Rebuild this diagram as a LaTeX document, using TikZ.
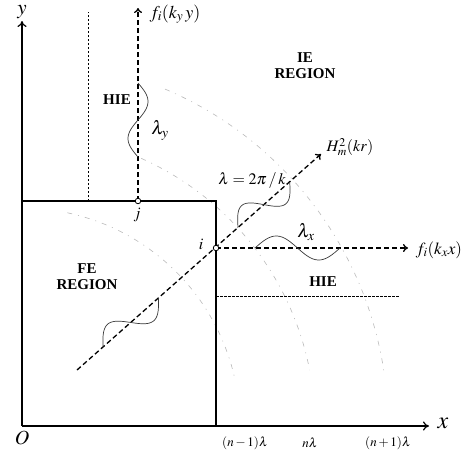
\documentclass[tikz,border=0pt]{standalone}
\usepackage{mathptmx}
\usepackage{fontspec}
\setmainfont{Liberation Serif}
\usetikzlibrary{arrows.meta}
\begin{document}
\begin{tikzpicture}[x=1pt,y=-1pt,
  axisline/.style={line width=1.2pt,-{To[length=6pt,width=9pt]}},
  feline/.style={line width=2.2pt},
  dasharrow/.style={line width=1.3pt,dash pattern=on 5pt off 3pt,-{To[length=5pt,width=8pt]}},
  finedash/.style={line width=0.8pt,dash pattern=on 2.5pt off 1.5pt},
  arcline/.style={gray!55,line width=0.6pt,dash pattern=on 5pt off 6pt on 1pt off 6pt},
  waveline/.style={gray!45!black,line width=0.7pt},
  ptmark/.style={circle,draw,fill=white,inner sep=0pt,minimum size=5.5pt,line width=0.8pt},
  boldlbl/.style={font=\fontsize{15}{16}\selectfont\bfseries,align=center},
  mlbl/.style={font=\fontsize{16}{18}\selectfont},
  biglbl/.style={font=\fontsize{19}{21}\selectfont},
  ticklbl/.style={font=\fontsize{13}{15}\selectfont},
  axlbl/.style={font=\fontsize{24}{26}\selectfont}
]
\useasboundingbox (0,0) rectangle (470,455);
% key coordinates
\coordinate (O) at (22,426);
\coordinate (ytip) at (22,21);
\coordinate (xtip) at (429,426);
\coordinate (tl) at (22,201);
\coordinate (tr) at (216,201);
\coordinate (br) at (216,426);
\coordinate (jp) at (138,201);
\coordinate (ip) at (216,248);
\coordinate (jtip) at (138,8);
\coordinate (itip) at (408,248);
\coordinate (d0) at (77,370);
\coordinate (d1) at (321,154);
\coordinate (vtop) at (88,12);
\coordinate (vbot) at (88,201);
\coordinate (hl) at (216,296);
\coordinate (hr) at (400,296);

% faint arcs centred at O
\draw[arcline] (O) ++(-78:218) arc[start angle=-78,end angle=-12,radius=218];
\draw[arcline] (O) ++(-66:293) arc[start angle=-66,end angle=-11,radius=293];
\draw[arcline] (O) ++(-67:366) arc[start angle=-67,end angle=-8,radius=366];

% axes
\draw[axisline] (O) -- (ytip);
\draw[axisline] (O) -- (xtip);
% FE region boundary
\draw[feline] (tl) -- (tr) -- (br);

% fine dashed lines
\draw[finedash] (vbot) -- (vtop);
\draw[finedash] (hl) -- (hr);

% dashed arrows
\draw[dasharrow] (jp) -- (jtip);
\draw[dasharrow] (ip) -- (itip);
\draw[dasharrow] (d0) -- (d1);

% waves
\draw[waveline] plot[domain=0:1,samples=50,smooth] ({138+10*sin(360*\x)},{83+74*\x});
\draw[waveline] plot[domain=0:1,samples=50,smooth] ({255+85*\x},{248-12*sin(360*\x)});
\draw[waveline] plot[domain=0:1,samples=50,smooth]
  ({103+0.749*74*\x-0.663*14*sin(360*\x)},{347-0.663*74*\x-0.749*14*sin(360*\x)});
\draw[waveline] plot[domain=0:1,samples=50,smooth]
  ({238+0.749*69*\x-0.663*14*sin(360*\x)},{227.5-0.663*69*\x-0.749*14*sin(360*\x)});

% points
\node[ptmark] (j) at (jp) {};
\node[ptmark] (i) at (ip) {};

% labels
\node[axlbl,font=\fontsize{21}{23}\selectfont,inner sep=0pt] (ylab) at (22,12) {$y$};
\node[axlbl] (xlab) at (443,423) {$x$};
\node[axlbl,font=\fontsize{20}{22}\selectfont] (olab) at (22,438) {$O$};
\node[biglbl,font=\fontsize{18}{20}\selectfont] (fy) at (175,14) {$f_i(k_y\, y)$};
\node[mlbl,font=\fontsize{17}{19}\selectfont] (fx) at (439,250) {$f_i(k_x x)$};
\node[mlbl] (hk) at (350,147) {$H_m^2(kr)$};
\node[mlbl] (lam) at (252,181) {$\lambda = 2\pi\,/\,k$};
\node[biglbl] (lamy) at (160,130) {$\lambda_y$};
\node[biglbl] (lamx) at (306,232) {$\lambda_x$};
\node[mlbl] (jl) at (137,215) {$j$};
\node[mlbl] (il) at (201,244) {$i$};
\node[boldlbl] (hie1) at (117,100) {HIE};
\node[boldlbl] (hie2) at (323,282) {HIE};
\node[boldlbl] (ie) at (305,66) {IE\\REGION};
\node[boldlbl] (fe) at (87,277) {FE\\REGION};
\node[ticklbl] (t1) at (245,443) {$(n-1)\lambda$};
\node[ticklbl] (t2) at (310,443) {$n\lambda$};
\node[ticklbl] (t3) at (388,443) {$(n+1)\lambda$};
\end{tikzpicture}
\end{document}
